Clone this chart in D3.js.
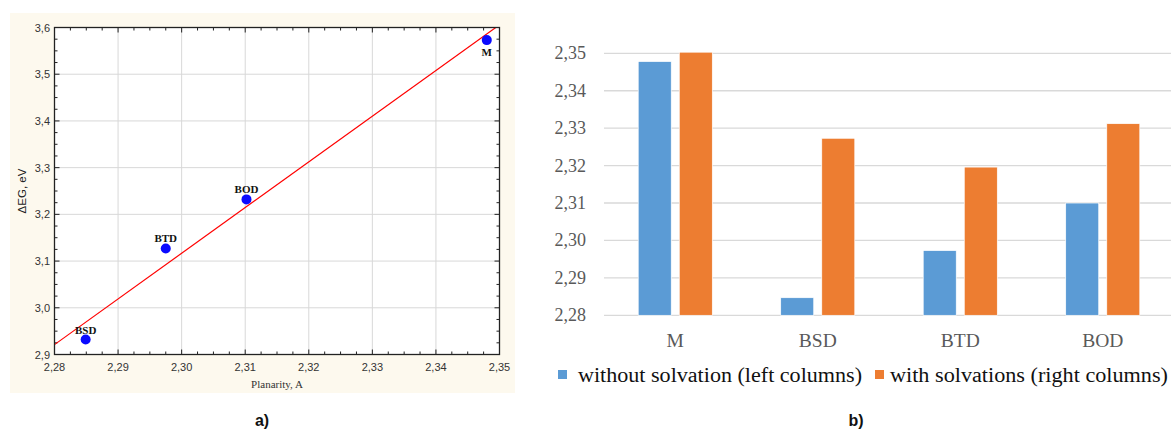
<!doctype html>
<html lang="en">
<head>
<meta charset="UTF-8" />
<title>Planarity vs band gap</title>
<script src="https://cdn.jsdelivr.net/npm/d3@7"></script>
<style>
  body { margin: 0; background: #fff; }
  svg { display: block; }
</style>
</head>
<body>
<svg id="chart" width="1171" height="432"></svg>
<script>
// --- data ---
var molecules = ["M", "BSD", "BTD", "BOD"];
var planarity = [2.348, 2.2849, 2.2975, 2.3102];   // A
var deltaEG = [3.573, 2.932, 3.127, 3.232];        // eV
var withoutSolv = [2.3478, 2.2847, 2.2973, 2.3100];
var withSolv = [2.3503, 2.3273, 2.3196, 2.3312];
var seriesNames = ["without solvation (left columns)", "with solvations (right columns)"];
var xTicksA = [2.28, 2.29, 2.30, 2.31, 2.32, 2.33, 2.34, 2.35];
var yTicksA = [2.9, 3.0, 3.1, 3.2, 3.3, 3.4, 3.5, 3.6];
var yTicksB = [2.28, 2.29, 2.30, 2.31, 2.32, 2.33, 2.34, 2.35];

var svg = d3.select("#chart");
var comma = function (d, n) { return d.toFixed(n).replace(".", ","); };

// ================= panel a) =================
svg.append("rect").attr("x", 10).attr("y", 13).attr("width", 505).attr("height", 380)
  .attr("fill", "#fdf9ee");

var xa = d3.scaleLinear().domain([2.28, 2.35]).range([54.5, 499.5]);
var ya = d3.scaleLinear().domain([2.9, 3.6]).range([354.5, 27.5]);
var ga = svg.append("g");

ga.append("rect").attr("x", xa(2.28)).attr("y", ya(3.6))
  .attr("width", xa(2.35) - xa(2.28)).attr("height", ya(2.9) - ya(3.6)).attr("fill", "#fff");

// grid
ga.selectAll(".gx").data(xTicksA.slice(1, -1)).enter().append("line")
  .attr("x1", d => xa(d)).attr("x2", d => xa(d)).attr("y1", ya(3.6)).attr("y2", ya(2.9))
  .attr("stroke", "#d8d8d8").attr("stroke-width", 1);
ga.selectAll(".gy").data(yTicksA.slice(1, -1)).enter().append("line")
  .attr("y1", d => ya(d)).attr("y2", d => ya(d)).attr("x1", xa(2.28)).attr("x2", xa(2.35))
  .attr("stroke", "#d8d8d8").attr("stroke-width", 1);

// inward ticks on all four sides
var xMinor = d3.range(0, 29).map(i => 2.28 + i * 0.0025);
var yMinor = d3.range(0, 29).map(i => 2.9 + i * 0.025);
function isMajor(v, step) { return Math.abs(v / step - Math.round(v / step)) < 1e-6; }
xMinor.forEach(function (v) {
  var len = isMajor(v, 0.01) ? 5 : 3;
  ga.append("line").attr("x1", xa(v)).attr("x2", xa(v)).attr("y1", ya(2.9)).attr("y2", ya(2.9) - len).attr("stroke", "#222");
  ga.append("line").attr("x1", xa(v)).attr("x2", xa(v)).attr("y1", ya(3.6)).attr("y2", ya(3.6) + len).attr("stroke", "#222");
});
yMinor.forEach(function (v) {
  var len = isMajor(v, 0.1) ? 5 : 3;
  ga.append("line").attr("y1", ya(v)).attr("y2", ya(v)).attr("x1", xa(2.28)).attr("x2", xa(2.28) + len).attr("stroke", "#222");
  ga.append("line").attr("y1", ya(v)).attr("y2", ya(v)).attr("x1", xa(2.35)).attr("x2", xa(2.35) - len).attr("stroke", "#222");
});

// regression line (least squares)
var mx = d3.mean(planarity), my = d3.mean(deltaEG);
var sxy = d3.sum(planarity, (x, i) => (x - mx) * (deltaEG[i] - my));
var sxx = d3.sum(planarity, x => (x - mx) * (x - mx));
var slope = sxy / sxx, icpt = my - slope * mx;
ga.append("clipPath").attr("id", "clipA").append("rect")
  .attr("x", xa(2.28)).attr("y", ya(3.6)).attr("width", xa(2.35) - xa(2.28)).attr("height", ya(2.9) - ya(3.6));
ga.append("line").attr("clip-path", "url(#clipA)")
  .attr("x1", xa(2.28)).attr("y1", ya(slope * 2.28 + icpt))
  .attr("x2", xa(2.35)).attr("y2", ya(slope * 2.35 + icpt))
  .attr("stroke", "#ff0000").attr("stroke-width", 1.2);

// frame
ga.append("rect").attr("x", xa(2.28)).attr("y", ya(3.6))
  .attr("width", xa(2.35) - xa(2.28)).attr("height", ya(2.9) - ya(3.6))
  .attr("fill", "none").attr("stroke", "#222").attr("stroke-width", 1.3);

// points
ga.selectAll(".pt").data(molecules).enter().append("circle")
  .attr("cx", (d, i) => xa(planarity[i])).attr("cy", (d, i) => ya(deltaEG[i]))
  .attr("r", 5).attr("fill", "#0a0aff");
ga.selectAll(".pl").data(molecules).enter().append("text")
  .attr("x", (d, i) => xa(planarity[i]))
  .attr("y", (d, i) => ya(deltaEG[i]) + (d === "M" ? 16 : -6))
  .attr("text-anchor", "middle").attr("font-family", "Liberation Serif, serif")
  .attr("font-weight", "bold").attr("font-size", 11).attr("fill", "#111").text(d => d);

// tick labels
ga.selectAll(".xl").data(xTicksA).enter().append("text")
  .attr("x", d => xa(d)).attr("y", 371).attr("text-anchor", "middle")
  .attr("font-family", "Liberation Sans, Arial, sans-serif").attr("font-size", 11).attr("fill", "#333")
  .text(d => comma(d, 2));
ga.selectAll(".yl").data(yTicksA).enter().append("text")
  .attr("x", 50).attr("y", d => ya(d) + 4).attr("text-anchor", "end")
  .attr("font-family", "Liberation Sans, Arial, sans-serif").attr("font-size", 11).attr("fill", "#333")
  .text(d => comma(d, 1));

ga.append("text").attr("transform", "translate(26,191) rotate(-90)").attr("text-anchor", "middle")
  .attr("font-family", "Liberation Sans, Arial, sans-serif").attr("font-size", 11.5).attr("fill", "#222")
  .text("\u0394EG, eV");
ga.append("text").attr("x", 277).attr("y", 388).attr("text-anchor", "middle")
  .attr("font-family", "Liberation Serif, serif").attr("font-size", 11).attr("fill", "#333")
  .text("Planarity, A");

svg.append("text").attr("x", 262).attr("y", 426).attr("text-anchor", "middle")
  .attr("font-family", "Liberation Sans, Arial, sans-serif").attr("font-weight", "bold").attr("font-size", 16)
  .attr("fill", "#111").text("a)");

// ================= panel b) =================
var x0 = d3.scaleBand().domain(molecules).range([604, 1174]).paddingInner(0.48).paddingOuter(0.24);
var x1 = d3.scaleBand().domain([0, 1]).range([0, x0.bandwidth()]).paddingInner(0.195);
var yb = d3.scaleLinear().domain([2.28, 2.35]).range([315.3, 53.3]);
var gb = svg.append("g");

gb.selectAll(".gb").data(yTicksB).enter().append("line")
  .attr("x1", 604).attr("x2", 1171).attr("y1", d => yb(d)).attr("y2", d => yb(d))
  .attr("stroke", "#d9d9d9").attr("stroke-width", 1.3);

var colors = ["#5b9bd5", "#ed7d31"];
var series = [withoutSolv, withSolv];
series.forEach(function (vals, s) {
  gb.selectAll(".bar" + s).data(molecules).enter().append("rect")
    .attr("x", d => x0(d) + x1(s)).attr("width", x1.bandwidth())
    .attr("y", (d, i) => yb(vals[i])).attr("height", (d, i) => yb(2.28) - yb(vals[i]))
    .attr("fill", colors[s]).attr("stroke", "#fff").attr("stroke-width", 0.7);
});

gb.selectAll(".yb").data(yTicksB).enter().append("text")
  .attr("x", 586).attr("y", d => yb(d) + 6).attr("text-anchor", "end")
  .attr("font-family", "Liberation Serif, serif").attr("font-size", 18).attr("fill", "#595959")
  .text(d => comma(d, 2));
gb.selectAll(".cat").data(molecules).enter().append("text")
  .attr("x", d => x0(d) + x0.bandwidth() / 2).attr("y", 347).attr("text-anchor", "middle")
  .attr("font-family", "Liberation Serif, serif").attr("font-size", 19.5).attr("fill", "#595959")
  .text(d => d);

// legend
var legX = [558, 875];
var legW = [284, 278];
seriesNames.forEach(function (name, s) {
  gb.append("rect").attr("x", legX[s]).attr("y", 370).attr("width", 9).attr("height", 9).attr("fill", colors[s]);
  gb.append("text").attr("x", legX[s] + (s === 0 ? 20 : 15)).attr("y", 382)
    .attr("font-family", "Liberation Serif, serif").attr("font-size", 20).attr("fill", "#111")
    .attr("textLength", legW[s]).attr("lengthAdjust", "spacingAndGlyphs")
    .text(name);
});

svg.append("text").attr("x", 856).attr("y", 426).attr("text-anchor", "middle")
  .attr("font-family", "Liberation Sans, Arial, sans-serif").attr("font-weight", "bold").attr("font-size", 16)
  .attr("fill", "#111").text("b)");
</script>
</body>
</html>
